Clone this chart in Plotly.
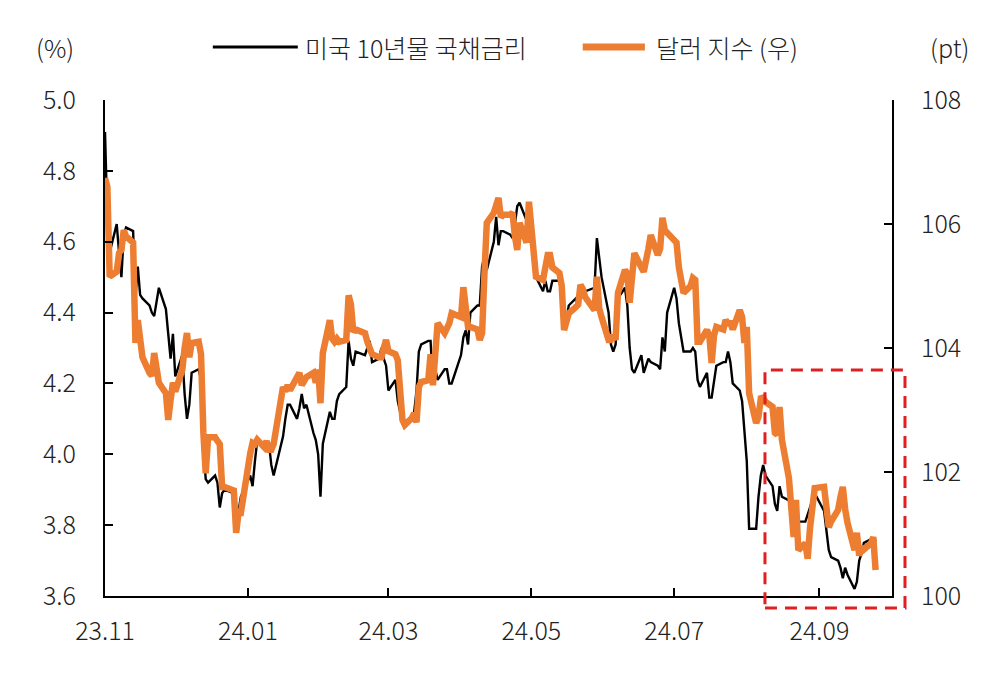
import pandas as pd
import plotly.graph_objects as go

# ---- data ----
holidays = ["2023-11-23", "2023-12-25", "2024-01-01", "2024-01-15", "2024-02-19",
            "2024-03-29", "2024-05-27", "2024-06-19", "2024-07-04", "2024-09-02"]
start_date = "2023-11-01"
end_date = "2024-09-25"

us10y = [
    # Nov 2023
    4.91, 4.67, 4.57, 4.65, 4.57, 4.50, 4.62, 4.64, 4.63, 4.44, 4.53, 4.45, 4.44, 4.42, 4.40, 4.39, 4.47, 4.41, 4.34, 4.27, 4.34,
    # Dec
    4.22, 4.28, 4.17, 4.10, 4.14, 4.23, 4.24, 4.21, 4.02, 3.93, 3.92, 3.94, 3.92, 3.85, 3.89, 3.90, 3.89, 3.80, 3.84, 3.88,
    # Jan 2024
    3.94, 3.91, 3.98, 4.04, 4.03, 4.02, 4.03, 3.97, 3.94, 4.05, 4.10, 4.14, 4.14, 4.10, 4.13, 4.17, 4.13, 4.14, 4.06, 4.04, 4.00,
    # Feb
    3.88, 4.03, 4.12, 4.10, 4.10, 4.15, 4.17, 4.19, 4.32, 4.27, 4.25, 4.29, 4.28, 4.30, 4.32, 4.26, 4.27, 4.30, 4.27, 4.25,
    # Mar
    4.18, 4.21, 4.15, 4.12, 4.09, 4.09, 4.10, 4.12, 4.18, 4.29, 4.31, 4.32, 4.32, 4.20, 4.24, 4.21, 4.24, 4.24, 4.20, 4.20,
    # Apr
    4.28, 4.33, 4.35, 4.31, 4.40, 4.42, 4.42, 4.53, 4.56, 4.52, 4.60, 4.67, 4.59, 4.63, 4.63, 4.62, 4.61, 4.65, 4.70, 4.71, 4.66, 4.68,
    # May
    4.63, 4.60, 4.50, 4.46, 4.49, 4.46, 4.46, 4.49, 4.49, 4.45, 4.36, 4.38, 4.42, 4.44, 4.42, 4.44, 4.47, 4.46, 4.47, 4.61, 4.55, 4.50,
    # Jun
    4.40, 4.31, 4.29, 4.31, 4.44, 4.47, 4.42, 4.30, 4.24, 4.23, 4.28, 4.23, 4.27, 4.26, 4.25, 4.24, 4.33, 4.29, 4.40,
    # Jul
    4.47, 4.44, 4.37, 4.29, 4.29, 4.30, 4.29, 4.21, 4.19, 4.23, 4.16, 4.16, 4.21, 4.25, 4.26, 4.26, 4.29, 4.26, 4.20, 4.18, 4.15, 4.06,
    # Aug
    3.98, 3.79, 3.79, 3.88, 3.94, 3.97, 3.94, 3.91, 3.86, 3.84, 3.91, 3.88, 3.87, 3.82, 3.80, 3.86, 3.81, 3.81, 3.83, 3.85, 3.87, 3.89,
    # Sep
    3.84, 3.79, 3.73, 3.71, 3.70, 3.68, 3.65, 3.68, 3.66, 3.62, 3.64, 3.70, 3.72, 3.75, 3.76, 3.74, 3.76,
]

dxy = [
    # Nov 2023
    106.74, 106.6, 105.15, 105.23, 105.53, 105.58, 105.9, 105.8, 105.7, 104.08, 104.45, 104.08, 103.85, 103.6, 103.55, 103.92, 103.44, 103.27, 102.84, 103.16, 103.44,
    # Dec
    103.3, 103.65, 104.0, 104.24, 103.85, 104.08, 104.1, 103.9, 102.63, 101.98, 102.56, 102.56, 102.5, 102.45, 101.76, 101.76, 101.7, 101.02, 101.34, 101.34,
    # Jan 2024
    102.3, 102.47, 102.45, 102.52, 102.4, 102.5, 102.36, 102.36, 102.45, 103.37, 103.3, 103.4, 103.32, 103.53, 103.6, 103.40, 103.5, 103.53, 103.6, 103.44, 103.65,
    # Feb
    103.11, 103.92, 104.45, 104.15, 104.1, 104.15, 104.1, 104.13, 104.85, 104.7, 104.26, 104.3, 104.24, 104.1, 104.02, 103.9, 103.85, 103.85, 104.0, 104.13,
    # Mar
    103.95, 103.9, 103.8, 103.35, 102.84, 102.76, 102.87, 102.95, 102.8, 103.37, 103.45, 103.48, 103.9, 103.4, 103.95, 104.4, 104.24, 104.3, 104.4, 104.56,
    # Apr
    104.5, 104.98, 104.6, 104.34, 104.34, 104.3, 104.13, 104.24, 105.2, 106.02, 106.18, 106.3, 106.42, 106.11, 106.15, 106.15, 106.18, 105.8, 105.58, 106.02, 105.7, 106.36,
    # May
    105.9, 105.63, 105.15, 105.1, 105.4, 105.5, 105.5, 105.3, 105.21, 105.0, 104.29, 104.4, 104.56, 104.66, 104.7, 105.02, 104.95, 104.82, 104.61, 105.15, 104.64, 104.5,
    # Jun
    104.13, 104.13, 104.2, 104.13, 104.89, 105.26, 105.2, 104.73, 105.2, 105.53, 105.3, 105.23, 105.6, 105.82, 105.5, 105.6, 106.1, 105.9, 105.86,
    # Jul
    105.74, 105.7, 105.3, 104.89, 105.0, 105.13, 105.1, 104.1, 104.1, 104.29, 104.2, 103.76, 104.2, 104.34, 104.3, 104.45, 104.4, 104.4, 104.3, 104.61, 104.5, 104.08,
    # Aug
    104.34, 103.27, 102.79, 102.89, 103.19, 103.2, 103.13, 103.05, 102.63, 102.6, 103.05, 102.52, 101.9, 101.4, 100.95, 101.55, 100.74, 100.85, 100.6, 101.1, 101.34, 101.74,
    # Sep
    101.76, 101.4, 101.11, 101.2, 101.39, 101.6, 101.76, 101.4, 101.18, 100.74, 101.02, 100.65, 100.79, 100.75, 100.85, 100.95, 100.42,
]

x_tick_dates = ["2023-11-01", "2024-01-01", "2024-03-01", "2024-05-01", "2024-07-01", "2024-09-01"]
x_tick_labels = ["23.11", "24.01", "24.03", "24.05", "24.07", "24.09"]
left_ticks = [3.6, 3.8, 4.0, 4.2, 4.4, 4.6, 4.8, 5.0]
right_ticks = [100, 102, 104, 106, 108]
name_yield = "미국 10년물 국채금리"
name_dxy = "달러 지수 (우)"

dates = pd.bdate_range(start_date, end_date, freq="C", holidays=holidays)
n = min(len(dates), len(us10y), len(dxy))
dates = dates[:n]

FONT = "Noto Sans CJK KR"
TXT = "#222222"
ORANGE = "#ED7D31"
FS = 25
WT = 300

fig = go.Figure()
fig.add_trace(go.Scatter(x=dates, y=us10y[:n], name=name_yield, mode="lines",
                         line=dict(color="black", width=2.4), yaxis="y"))
fig.add_trace(go.Scatter(x=dates, y=dxy[:n], name=name_dxy, mode="lines",
                         line=dict(color=ORANGE, width=6.5), yaxis="y2"))

axis_font = dict(family=FONT, size=FS, color=TXT, weight=WT)

fig.update_layout(
    width=1000, height=675,
    margin=dict(l=97, r=116, t=92, b=87),
    plot_bgcolor="white", paper_bgcolor="white",
    showlegend=False,
    font=dict(family=FONT, size=FS, color=TXT, weight=WT),
    xaxis=dict(
        type="date", range=["2023-11-01", "2024-10-02"],
        tickvals=x_tick_dates, ticktext=x_tick_labels,
        ticks="inside", ticklen=8, tickwidth=2, tickcolor="black",
        showline=True, linecolor="black", linewidth=2,
        showgrid=False, zeroline=False, tickfont=axis_font,
        ticklabelstandoff=12,
    ),
    yaxis=dict(
        range=[3.6, 5.0], tickvals=left_ticks, tickformat=".1f",
        ticks="inside", ticklen=8, tickwidth=2, tickcolor="black",
        showline=True, linecolor="black", linewidth=2,
        showgrid=False, zeroline=False, tickfont=axis_font,
        ticklabelstandoff=22,
    ),
    yaxis2=dict(
        range=[100, 108], tickvals=right_ticks,
        overlaying="y", side="right",
        ticks="inside", ticklen=8, tickwidth=2, tickcolor="black",
        showline=True, linecolor="black", linewidth=2,
        showgrid=False, zeroline=False, tickfont=axis_font,
        ticklabelstandoff=22,
    ),
)

# legend (drawn manually to match the reference layout)
leg_y = 1.107
leg_font = dict(family=FONT, size=FS, color=TXT, weight=WT)
fig.add_shape(type="line", xref="paper", yref="paper", x0=0.137, x1=0.245, y0=leg_y, y1=leg_y,
              line=dict(color="black", width=3))
fig.add_annotation(x=0.252, y=leg_y, xref="paper", yref="paper", text=name_yield,
                   showarrow=False, xanchor="left", yanchor="middle", font=leg_font)
fig.add_shape(type="line", xref="paper", yref="paper", x0=0.607, x1=0.686, y0=leg_y, y1=leg_y,
              line=dict(color=ORANGE, width=7))
fig.add_annotation(x=0.697, y=leg_y, xref="paper", yref="paper", text=name_dxy,
                   showarrow=False, xanchor="left", yanchor="middle", font=leg_font)
# unit labels
fig.add_annotation(x=-0.09, y=leg_y, xref="paper", yref="paper", text="(%)",
                   showarrow=False, xanchor="left", yanchor="middle", font=leg_font)
fig.add_annotation(x=1.10, y=leg_y, xref="paper", yref="paper", text="(pt)",
                   showarrow=False, xanchor="right", yanchor="middle", font=leg_font)

# highlight box
fig.add_shape(type="rect", xref="paper", yref="paper",
              x0=0.8386, x1=1.0165, y0=-0.024, y1=0.4556,
              line=dict(color="#E02020", width=3, dash="12px,8px"),
              fillcolor="rgba(0,0,0,0)", layer="above")

fig.write_html("out.html")
